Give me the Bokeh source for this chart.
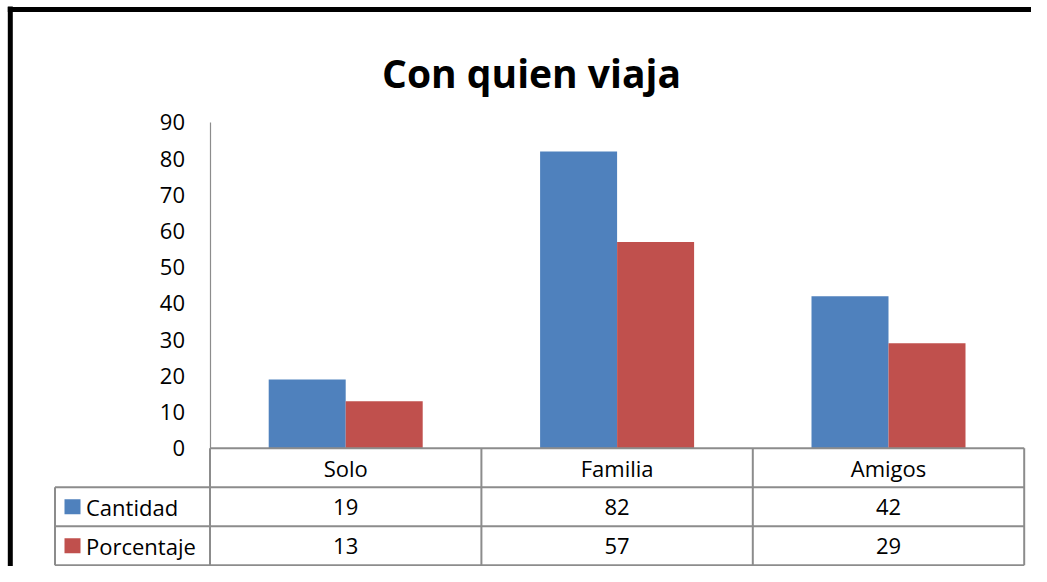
from bokeh.plotting import figure
from bokeh.models import LinearAxis, FixedTicker, Range1d
from bokeh.core.properties import value
from bokeh.embed import file_html
from bokeh.resources import INLINE

# ---- data ----
title = "Con quien viaja"
categories = ["Solo", "Familia", "Amigos"]
series_names = ["Cantidad", "Porcentaje"]
cantidad = [19, 82, 42]
porcentaje = [13, 57, 29]
y_ticks = [0, 10, 20, 30, 40, 50, 60, 70, 80, 90]

# ---- style / layout ----
colors = ["#4F81BD", "#C0504D"]
FONT = "Open Sans"
GRID = "#8c8c8c"

W, H = 1031, 566
CELL = 271.4     # px per category cell
UNIT = 3.619     # px per value unit
AX_X = 209.5     # canvas x of value axis
ZERO_Y = 447.7   # canvas y of value 0
ROW_PX = 39.0    # table row height in px
LEG_PX = 155     # legend column width in px

x0 = -0.5 - AX_X / CELL
x1 = x0 + W / CELL
y1 = ZERO_Y / UNIT
y0 = y1 - H / UNIT


def px_x(cx):
    return x0 + cx / CELL


def px_y(cy):
    return y1 - cy / UNIT


p = figure(width=W, height=H, x_range=Range1d(x0, x1), y_range=Range1d(y0, y1),
           output_backend="svg", toolbar_location=None,
           x_axis_location=None, y_axis_location=None, min_border=0)
p.outline_line_color = None
p.background_fill_color = "white"
p.border_fill_color = "white"
p.grid.visible = False

n = len(categories)
idx = list(range(n))
bw = 77 / CELL

series = [cantidad, porcentaje]
for k, vals in enumerate(series):
    off = (k - (len(series) - 1) / 2) * bw
    p.vbar(x=[i + off for i in idx], top=vals, bottom=0, width=bw,
           fill_color=colors[k], line_color=None)

# value axis
ax = LinearAxis(fixed_location=-0.5, bounds=(0, max(y_ticks)),
                ticker=FixedTicker(ticks=y_ticks))
ax.major_tick_in = 0
ax.major_tick_out = 0
ax.minor_tick_in = 0
ax.minor_tick_out = 0
ax.axis_line_color = GRID
ax.axis_line_width = 1.2
ax.major_label_text_font = FONT
ax.major_label_text_font_size = "22px"
ax.major_label_text_color = "black"
ax.major_label_standoff = 25
p.add_layout(ax, "left")

# data table
row_h = ROW_PX / UNIT
leg_left = -0.5 - LEG_PX / CELL
right = n - 0.5
hx0 = [-0.5, leg_left, leg_left, leg_left]
hx1 = [right] * 4
hy = [0, -row_h, -2 * row_h, -3 * row_h]
p.segment(x0=hx0, y0=hy, x1=hx1, y1=hy, line_color=GRID, line_width=2)
vx = [-0.5 + i for i in range(n + 1)] + [leg_left]
vy0 = [0] * (n + 1) + [-row_h]
vy1 = [-3 * row_h] * (n + 2)
p.segment(x0=vx, y0=vy0, x1=vx, y1=vy1, line_color=GRID, line_width=2)

txt = dict(text_font=value(FONT), text_font_size="22px", text_color="black",
           text_align="center", text_baseline="middle")
p.text(x=idx, y=[-row_h / 2] * n, text=categories, **txt)
for k, vals in enumerate(series):
    p.text(x=idx, y=[-(k + 1.5) * row_h] * n, text=[str(v) for v in vals], **txt)

# legend keys inside table
ly = [-(k + 1.5) * row_h for k in range(len(series))]
p.rect(x=[leg_left + 17.5 / CELL] * len(series), y=ly, width=16, height=15,
       width_units="screen", height_units="screen", fill_color=colors, line_color=None)
p.text(x=[leg_left + 31 / CELL] * len(series), y=ly, text=series_names,
       text_font=value(FONT), text_font_size="22px", text_color="black",
       text_align="left", text_baseline="middle")

# title
p.text(x=[px_x(531)], y=[px_y(71.7)], text=[title], text_font=value(FONT),
       text_font_size="39px", text_font_style="bold", text_color="black",
       text_align="center", text_baseline="alphabetic")

# chart border (left and top edges visible)
p.segment(x0=[px_x(9.8), px_x(7.3)], y0=[px_y(6), px_y(8.9)],
          x1=[px_x(9.8), px_x(W)], y1=[px_y(H), px_y(8.9)],
          line_color="black", line_width=5)

open("out.html", "w").write(file_html(p, INLINE))
